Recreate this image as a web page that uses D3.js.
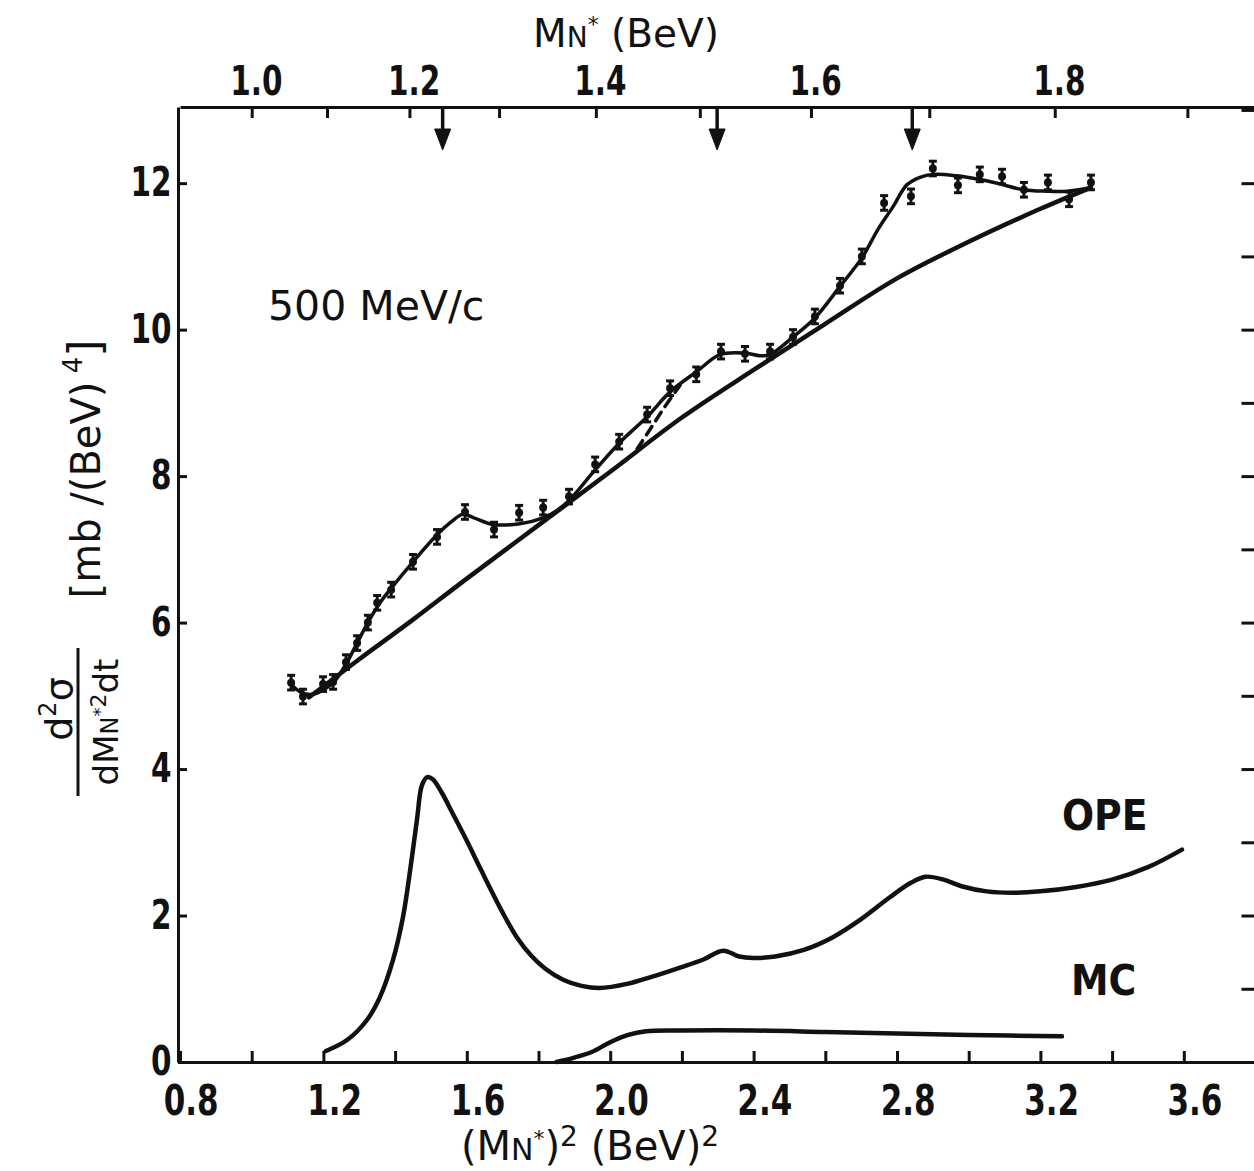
<!DOCTYPE html>
<html>
<head>
<meta charset="utf-8">
<script src="https://cdn.jsdelivr.net/npm/d3@7"></script>
<style>
  body { margin: 0; background: #fff; }
  svg { display: block; }
</style>
</head>
<body>
<div id="chart"></div>
<script>
////////////////////////////////////////////////////////////////
// Data, x in (M_N*)^2 (BeV)^2

// measured points with error bars
const pointX = [1.110, 1.143, 1.199, 1.227, 1.263, 1.294, 1.324, 1.350, 1.389, 1.450,
                1.517, 1.595, 1.676, 1.746, 1.813, 1.885, 1.958, 2.025, 2.103, 2.167,
                2.240, 2.309, 2.376, 2.446, 2.510, 2.571, 2.641, 2.702, 2.764, 2.839,
                2.900, 2.970, 3.031, 3.093, 3.154, 3.221, 3.280, 3.341];
const pointY = [5.18, 4.99, 5.16, 5.19, 5.46, 5.72, 6.00, 6.27, 6.45, 6.83,
                7.17, 7.51, 7.27, 7.50, 7.57, 7.72, 8.16, 8.47, 8.84, 9.20,
                9.39, 9.70, 9.67, 9.70, 9.90, 10.18, 10.60, 11.00, 11.73, 11.82,
                12.20, 11.97, 12.12, 12.09, 11.91, 12.01, 11.78, 12.01];
const pointErr = 0.1;

// smooth fit through the points
const fitX = [1.105, 1.14, 1.17, 1.20, 1.23, 1.266, 1.294, 1.324, 1.358, 1.386, 1.45,
              1.517, 1.553, 1.589, 1.62, 1.673, 1.748, 1.813, 1.852, 1.888, 1.952,
              2.027, 2.103, 2.167, 2.242, 2.306, 2.376, 2.418, 2.446, 2.51, 2.571,
              2.641, 2.702, 2.747, 2.789, 2.828, 2.864, 2.90, 2.967, 3.031, 3.087,
              3.151, 3.218, 3.274, 3.341];
const fitY = [5.18, 5.04, 5.02, 5.08, 5.19, 5.46, 5.72, 6.00, 6.27, 6.45, 6.83,
              7.20, 7.36, 7.48, 7.43, 7.34, 7.35, 7.43, 7.53, 7.68, 8.05,
              8.46, 8.81, 9.15, 9.43, 9.66, 9.68, 9.645, 9.66, 9.90, 10.16,
              10.59, 10.98, 11.37, 11.68, 11.98, 12.08, 12.12, 12.10, 12.05, 11.99,
              11.91, 11.89, 11.89, 11.94];

// smooth background curve
const bgX = [1.16, 1.30, 1.45, 1.60, 1.80, 2.00, 2.20, 2.40, 2.60, 2.80, 3.00, 3.20, 3.341];
const bgY = [4.98, 5.50, 6.04, 6.60, 7.33, 8.06, 8.80, 9.45, 10.08, 10.70, 11.20, 11.65, 11.94];

// dashed variant
const dashX = [2.075, 2.11, 2.15, 2.195];
const dashY = [8.37, 8.63, 8.93, 9.24];

// OPE calculation
const opeX = [1.207, 1.266, 1.321, 1.358, 1.394, 1.422, 1.442, 1.461, 1.475, 1.49,
              1.505, 1.53, 1.56, 1.60, 1.64, 1.70, 1.74, 1.78, 1.82, 1.87,
              1.92, 1.97, 2.05, 2.12, 2.195, 2.26, 2.315, 2.36, 2.40, 2.46,
              2.54, 2.62, 2.70, 2.78, 2.84, 2.88, 2.93, 2.98, 3.05, 3.12,
              3.20, 3.30, 3.40, 3.50, 3.595];
const opeY = [0.15, 0.30, 0.57, 0.89, 1.39, 1.98, 2.62, 3.31, 3.78, 3.89,
              3.86, 3.68, 3.40, 3.02, 2.62, 2.04, 1.70, 1.45, 1.27, 1.12,
              1.04, 1.01, 1.07, 1.17, 1.29, 1.40, 1.52, 1.44, 1.42, 1.44,
              1.53, 1.70, 1.95, 2.25, 2.45, 2.53, 2.49, 2.40, 2.33, 2.31,
              2.33, 2.39, 2.49, 2.66, 2.90];

// MC calculation
const mcX = [1.85, 1.90, 1.95, 2.00, 2.05, 2.10, 2.20, 2.40, 2.60, 2.80, 3.00, 3.26];
const mcY = [0.00, 0.06, 0.14, 0.27, 0.37, 0.42, 0.43, 0.43, 0.41, 0.39, 0.37, 0.35];

// axes
const bottomTicks = [0.8, 1.0, 1.2, 1.4, 1.6, 1.8, 2.0, 2.2, 2.4, 2.6, 2.8, 3.0, 3.2, 3.4, 3.6];
const bottomLabels = ["0.8", "1.2", "1.6", "2.0", "2.4", "2.8", "3.2", "3.6"];
const topTicks = [1.0, 1.1, 1.2, 1.3, 1.4, 1.5, 1.6, 1.7, 1.8, 1.9];
const topLabels = ["1.0", "1.2", "1.4", "1.6", "1.8"];
const leftTicks = [0, 2, 4, 6, 8, 10, 12];
const rightTicks = [0, 1, 2, 3, 4, 5, 6, 7, 8, 9, 10, 11, 12, 13];

// resonance arrows, in M_N* (BeV)
const arrowMasses = [1.238, 1.516, 1.686];

////////////////////////////////////////////////////////////////
// Setup

const W = 1254, H = 1171;
const labelFont = "'DejaVu Sans Condensed', sans-serif";
const textFont = "'DejaVu Sans', sans-serif";

let svg = d3.select("#chart").append("svg")
  .attr("width", W)
  .attr("height", H)

let x = d3.scaleLinear().domain([0.8, 3.8]).range([180, 1255.5]);
let y = d3.scaleLinear().domain([0, 13.04]).range([1062, 107]);
// top axis in M, placed where M^2 falls on the bottom scale
let xTop = d3.scalePow().exponent(2)
  .domain([Math.sqrt(0.8), Math.sqrt(3.8)])
  .range([180, 1255.5]);

////////////////////////////////////////////////////////////////
// Axes

function styleAxis(g, size) {
  g.select(".domain").attr("stroke", "#111").attr("stroke-width", 3);
  g.selectAll(".tick line").attr("stroke", "#111").attr("stroke-width", 3);
  // lettering on the original is narrow and heavy: squeeze it a bit
  g.selectAll(".tick text")
    .attr("font-family", labelFont)
    .attr("font-weight", "bold")
    .attr("font-size", size)
    .attr("fill", "#111")
    .attr("transform", "scale(0.82,1)");
}

svg.append("g")
  .attr("transform", `translate(0,${y(0)})`)
  .call(d3.axisBottom(x).tickValues(bottomTicks).tickSize(-11).tickSizeOuter(0)
    .tickPadding(23)
    .tickFormat(d => bottomLabels.includes(d.toFixed(1)) ? d.toFixed(1) : ""))
  .call(g => styleAxis(g, 42))
  .call(g => g.selectAll(".tick text").attr("dx", 13));

svg.append("g")
  .attr("transform", `translate(0,${y(13.04)})`)
  .call(d3.axisTop(xTop).tickValues(topTicks).tickSize(-11).tickSizeOuter(0)
    .tickPadding(12)
    .tickFormat(d => topLabels.includes(d.toFixed(1)) ? d.toFixed(1) : ""))
  .call(g => styleAxis(g, 40))
  .call(g => g.selectAll(".tick text").attr("dx", 5));

svg.append("g")
  .attr("transform", `translate(${x(0.8) - 2},0)`)
  .call(d3.axisLeft(y).tickValues(leftTicks).tickSize(-9).tickSizeOuter(0)
    .tickPadding(8).tickFormat(d3.format("d")))
  .call(g => styleAxis(g, 40));

svg.append("g")
  .attr("transform", `translate(${x(3.8)},0)`)
  .call(d3.axisRight(y).tickValues(rightTicks).tickSize(-14).tickSizeOuter(0)
    .tickFormat(""))
  .call(g => styleAxis(g, 40));

////////////////////////////////////////////////////////////////
// Curves

let line = d3.line()
  .x(d => x(d[0]))
  .y(d => y(d[1]))
  .curve(d3.curveCatmullRom.alpha(0.5));

function drawCurve(xs, ys, width, dash) {
  svg.append("path")
    .attr("d", line(d3.zip(xs, ys)))
    .attr("fill", "none")
    .attr("stroke", "#111")
    .attr("stroke-width", width)
    .attr("stroke-linecap", "round")
    .attr("stroke-dasharray", dash || null);
}

drawCurve(bgX, bgY, 4.5);
drawCurve(fitX, fitY, 3.5);
drawCurve(dashX, dashY, 3.5, "10,7");
drawCurve(opeX, opeY, 4.5);
drawCurve(mcX, mcY, 4.5);

////////////////////////////////////////////////////////////////
// Data points with error bars

let pts = svg.append("g").attr("stroke", "#111").attr("stroke-width", 3);
d3.zip(pointX, pointY).forEach(d => {
  let cx = x(d[0]);
  let y0 = y(d[1] - pointErr), y1 = y(d[1] + pointErr);
  pts.append("line").attr("x1", cx).attr("x2", cx).attr("y1", y0).attr("y2", y1);
  pts.append("line").attr("x1", cx - 4).attr("x2", cx + 4).attr("y1", y0).attr("y2", y0);
  pts.append("line").attr("x1", cx - 4).attr("x2", cx + 4).attr("y1", y1).attr("y2", y1);
  pts.append("circle").attr("cx", cx).attr("cy", y(d[1])).attr("r", 2.5).attr("fill", "#111");
});

////////////////////////////////////////////////////////////////
// Resonance arrows from the top axis

let arrows = svg.append("g").attr("fill", "#111").attr("stroke", "#111");
arrowMasses.forEach(m => {
  let ax = xTop(m), top = y(13.04);
  arrows.append("line")
    .attr("x1", ax).attr("x2", ax)
    .attr("y1", top).attr("y2", top + 28)
    .attr("stroke-width", 3.5);
  arrows.append("path")
    .attr("d", `M${ax - 8},${top + 22} L${ax + 8},${top + 22} L${ax},${top + 43} Z`)
    .attr("stroke-width", 1);
});

////////////////////////////////////////////////////////////////
// Texts

function subText(el, parts) {
  // parts: [text, size, dy]
  parts.forEach(p => {
    el.append("tspan").text(p[0]).attr("font-size", p[1]).attr("dy", p[2] || 0);
  });
}

// top title
let tt = svg.append("text")
  .attr("x", 626).attr("y", 47)
  .attr("text-anchor", "middle")
  .attr("font-family", textFont).attr("font-size", 39).attr("fill", "#111");
subText(tt, [["M", 39], ["N", 28], ["*", 22, -15], ["  (BeV)", 39, 15]]);

// bottom title
let bt = svg.append("text")
  .attr("x", 590).attr("y", 1160)
  .attr("text-anchor", "middle")
  .attr("font-family", textFont).attr("font-size", 40).attr("fill", "#111");
subText(bt, [["(M", 40], ["N", 30], ["*", 22, -14], [")", 40, 14], ["2", 28, -14],
             ["  (BeV)", 40, 14], ["2", 28, -14]]);

// beam momentum
svg.append("text")
  .attr("x", 268).attr("y", 320)
  .attr("font-family", textFont).attr("font-size", 41).attr("fill", "#111")
  .text("500 MeV/c");

// curve labels
svg.append("text")
  .attr("x", 1062).attr("y", 830)
  .attr("font-family", "'DejaVu Sans Condensed', sans-serif").attr("font-weight", "bold")
  .attr("font-size", 42).attr("fill", "#111")
  .text("OPE");
svg.append("text")
  .attr("x", 1071).attr("y", 995)
  .attr("font-family", "'DejaVu Sans Condensed', sans-serif").attr("font-weight", "bold")
  .attr("font-size", 42).attr("fill", "#111")
  .text("MC");

// y label: fraction then units
let num = svg.append("text")
  .attr("transform", "translate(72,709) rotate(-90)")
  .attr("text-anchor", "middle")
  .attr("font-family", textFont).attr("font-size", 38).attr("fill", "#111");
subText(num, [["d", 38], ["2", 24, -16], ["σ", 38, 16]]);

svg.append("line")
  .attr("x1", 78).attr("x2", 78).attr("y1", 648).attr("y2", 796)
  .attr("stroke", "#111").attr("stroke-width", 3);

let den = svg.append("text")
  .attr("transform", "translate(118,722) rotate(-90)")
  .attr("text-anchor", "middle")
  .attr("font-family", textFont).attr("font-size", 34).attr("fill", "#111");
subText(den, [["dM", 34], ["N", 24], ["*", 18, -12], ["2", 22, 0], ["dt", 34, 12]]);

let units = svg.append("text")
  .attr("transform", "translate(100,469) rotate(-90)")
  .attr("text-anchor", "middle")
  .attr("font-family", textFont).attr("font-size", 40).attr("fill", "#111");
subText(units, [["[mb /(BeV)", 40], [" 4", 26, -18], ["]", 44, 18]]);
</script>
</body>
</html>
